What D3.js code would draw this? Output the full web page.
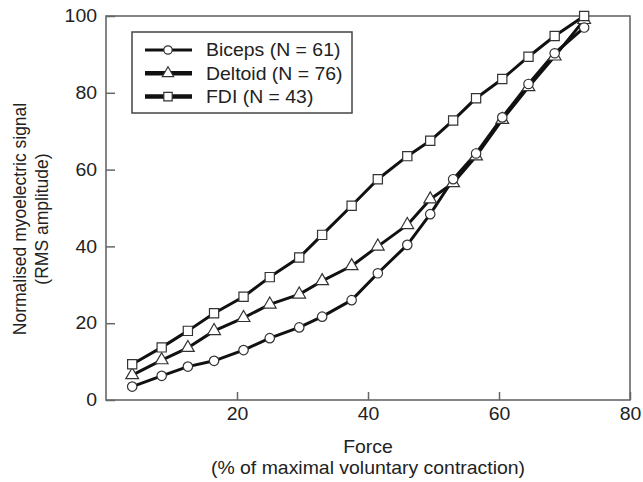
<!DOCTYPE html>
<html><head><meta charset="utf-8">
<script src="https://cdn.jsdelivr.net/npm/d3@7"></script>
<style>body{margin:0;background:#fff}svg{display:block}text{font-family:"Liberation Sans",Arial,sans-serif;fill:#222}</style>
</head><body><svg id="c" width="643" height="482"></svg>
<script>
const force = [4, 8.5, 12.5, 16.5, 21, 25, 29.5, 33, 37.5, 41.5, 46, 49.5, 53, 56.5, 60.5, 64.5, 68.5, 73];
const biceps = [3.5, 6.3, 8.7, 10.2, 13.0, 16.1, 18.9, 21.7, 26.0, 33.0, 40.4, 48.4, 57.5, 64.2, 73.6, 82.3, 90.3, 97.0];
const deltoid = [6.5, 10.4, 13.6, 18.0, 21.4, 24.9, 27.5, 31.0, 34.9, 40.0, 45.6, 52.3, 56.5, 63.5, 73.0, 81.5, 89.5, 99.0];
const fdi = [9.3, 13.7, 18.0, 22.6, 26.9, 32.0, 37.1, 43.0, 50.6, 57.5, 63.5, 67.5, 72.8, 78.6, 83.6, 89.4, 94.8, 100.0];
const seriesNames = ["Biceps (N = 61)", "Deltoid (N = 76)", "FDI (N = 43)"];
const xTicks = [20, 40, 60, 80];
const yTicks = [0, 20, 40, 60, 80, 100];

const svg = d3.select("#c");
const L = 106, R = 630, T = 16, B = 400;
const FS = 18, SX = 1.08;
const x = d3.scaleLinear().domain([0, 80]).range([L, R]);
const y = d3.scaleLinear().domain([0, 100]).range([B, T]);
const frameCol = "#666";

function stretch(sel, ax, ay) {
  sel.attr("transform", `translate(${ax},${ay}) scale(${SX},1) translate(${-ax},${-ay})`);
}

// axes with inward ticks
const gx = svg.append("g").attr("transform", `translate(0,${B})`)
  .call(d3.axisBottom(x).tickValues(xTicks).tickSizeInner(-8).tickSizeOuter(0).tickPadding(7));
const gy = svg.append("g").attr("transform", `translate(${L},0)`)
  .call(d3.axisLeft(y).tickValues(yTicks).tickSizeInner(-9).tickSizeOuter(0).tickPadding(9));
[gx, gy].forEach(g => {
  g.select(".domain").remove();
  g.selectAll(".tick line").attr("stroke", frameCol).attr("stroke-width", 1.5);
  g.selectAll(".tick text").attr("font-size", FS).attr("fill", "#222")
   .attr("font-family", '"Liberation Sans",Arial,sans-serif');
});
gx.selectAll(".tick text").each(function () { stretch(d3.select(this), 0, 0); });
gy.selectAll(".tick text").each(function () { stretch(d3.select(this), -9, 0); });
// frame
svg.append("rect").attr("x", L).attr("y", T).attr("width", R - L).attr("height", B - T)
  .attr("fill", "none").attr("stroke", frameCol).attr("stroke-width", 1.6);

// axis titles
const cx = (L + R) / 2;
stretch(svg.append("text").attr("x", cx).attr("y", 453).attr("text-anchor", "middle").attr("font-size", FS).text("Force"), cx, 453);
stretch(svg.append("text").attr("x", cx).attr("y", 474).attr("text-anchor", "middle").attr("font-size", FS).text("(% of maximal voluntary contraction)"), cx, 474);
const yl = svg.append("text").attr("transform", "translate(26,219) rotate(-90)").attr("text-anchor", "middle").attr("font-size", 17.5);
yl.append("tspan").attr("x", 0).attr("dy", 0).text("Normalised myoelectric signal");
yl.append("tspan").attr("x", 0).attr("dy", "1.25em").text("(RMS amplitude)");

const data = [biceps, deltoid, fdi];
const shapes = [d3.symbolCircle, d3.symbolTriangle, d3.symbolSquare];
const sizes = [70, 70, 85];
const line = d3.line().x((d, i) => x(force[i])).y(d => y(d));

const order = [1, 0, 2];
order.forEach(k => {
  svg.append("path").datum(data[k]).attr("d", line).attr("fill", "none")
    .attr("stroke", "#111").attr("stroke-width", 3).attr("stroke-linejoin", "round");
});
order.forEach(k => {
  svg.append("g").selectAll("path").data(data[k]).join("path")
    .attr("transform", (d, i) => `translate(${x(force[i])},${y(d)})`)
    .attr("d", d3.symbol().type(shapes[k]).size(sizes[k]))
    .attr("fill", "#fff").attr("stroke", "#333").attr("stroke-width", 1.2);
});

// legend
const lg = svg.append("g");
lg.append("rect").attr("x", 132).attr("y", 32).attr("width", 220).attr("height", 81)
  .attr("fill", "#fff").attr("stroke", "#444").attr("stroke-width", 1.5);
const lw = [3, 4.5, 4.5];
seriesNames.forEach((n, k) => {
  const yy = 50 + k * 23.3;
  lg.append("line").attr("x1", 145).attr("x2", 192).attr("y1", yy).attr("y2", yy)
    .attr("stroke", "#111").attr("stroke-width", lw[k]);
  lg.append("path").attr("transform", `translate(168,${yy})`)
    .attr("d", d3.symbol().type(shapes[k]).size(k === 2 ? 70 : 55))
    .attr("fill", "#fff").attr("stroke", "#333").attr("stroke-width", 1.2);
  stretch(lg.append("text").attr("x", 206).attr("y", yy).attr("dy", "0.36em").attr("font-size", FS).text(n), 206, yy);
});
</script></body></html>
